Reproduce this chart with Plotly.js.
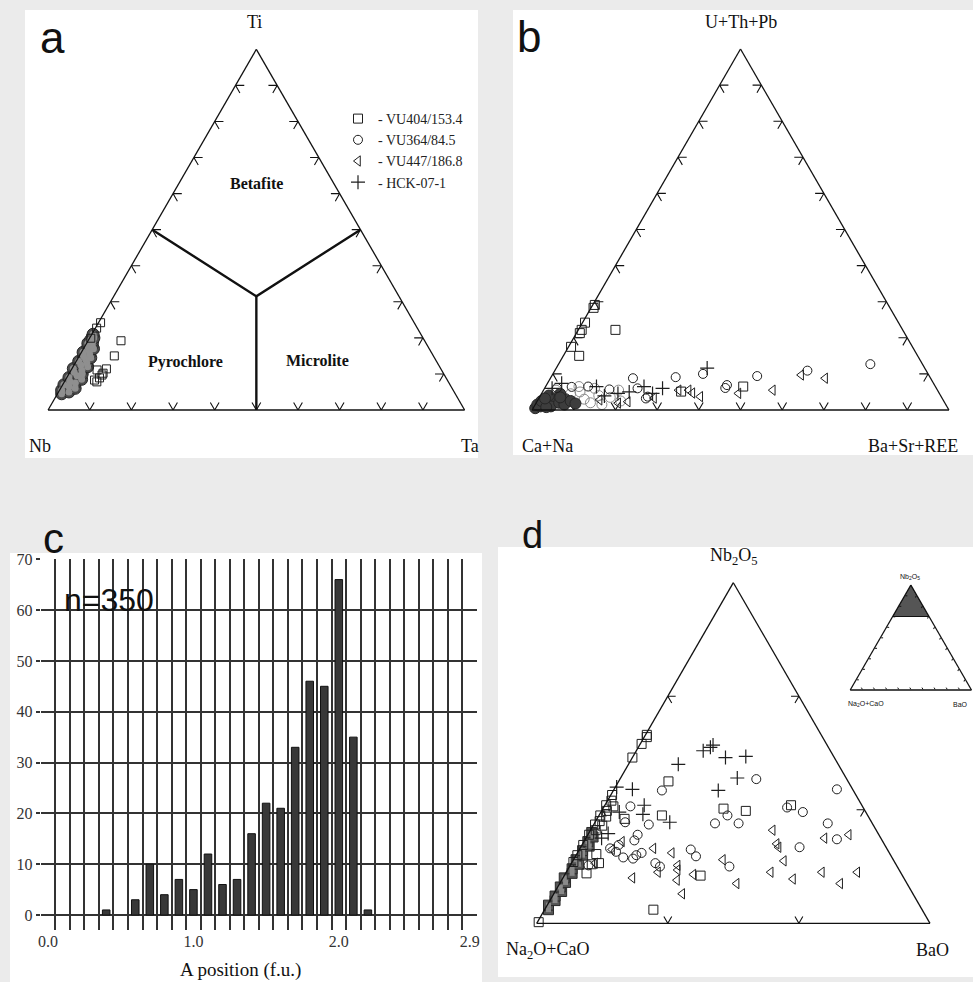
<!DOCTYPE html>
<html><head><meta charset="utf-8">
<script src="https://cdn.plot.ly/plotly-3.0.1.min.js"></script>
<style>html,body{margin:0;padding:0;background:#ebebeb}</style>
</head><body><div id="chart" style="width:973px;height:982px"></div>
<script>
// ---------- Panel a : Ti - Nb - Ta (percent of Ti and Ta, Nb = rest) ----------
const aSqTi   = [24.2,22.7,19.2,15.0,11.4,9.7,8.9,7.8,10.2,11.1,19.9,8.3];
const aSqTa   = [0.5,0.3,7.9,8.4,8.3,8.1,7.9,7.8,8.1,6.2,0.3,7.0];
const aBlobTi = [4.5,5,5.5,6,6.5,7,7.5,8,8.5,9,9.5,10,10.5,11,11.5,12,12.5,13,13.5,14,14.5,15,15.5,16,16.5,17,17.5,18,18.5,19,19.5,20,21];
const aBlobTa = [1.0,2.5,0.5,3.5,1.8,0.3,2.8,1.2,3.8,0.5,2.2,3.2,1.0,2.6,0.3,3.5,1.6,2.8,0.6,2.0,3.0,1.0,2.2,0.4,1.6,2.4,0.8,1.6,0.3,1.2,0.5,1.0,0.3];
const aFieldTi = [50,31.5,50,null,31.5,0];
const aFieldNb = [50,34.25,0,null,34.25,50];
const aFieldTa = [0,34.25,50,null,34.25,50];

// ---------- Panel b : U+Th+Pb - Ca+Na - Ba+Sr+REE ----------
const bSqU  = [29.1,24.2,22.2,21.3,17.5,15.0,22.2,6.5,5.1,28.3];
const bSqB  = [0.5,0.6,0.8,0.8,0.6,3.8,8.9,47.4,33.2,0.6];
const bCiU  = [8.8,9.1,10.0,6.9,6.1,9.4,10.9,12.7,5.7,6.0,3.7,6.5,6.4,6.1,3.2];
const bCiB  = [19.8,29.9,36.0,43.3,43.3,49.3,60.6,74.8,15.7,22.3,25.9,10.2,6.3,2.9,25.7];
const bTrU  = [8.8,9.7,5.5,4.6,3.7,5.5,4.7,5.5,3.3,2.3,1.9,2.8];
const bTrB  = [65.9,59.7,55.0,47.2,38.5,34.8,36.1,32.4,27.6,21.8,19.7,14.8];
const bCrU  = [11.6,6.0,4.6,6.5,4.6,6.5,7.4,6.0,5.0,3.9];
const bCrB  = [36.2,28.3,26.6,23.6,18.3,12.2,3.4,1.8,20.8,15.4];
const bDarkU = [0.5,1,1.5,2,2.5,3,1,2,3,1.5,2.5,4,4.5,3.5,0.8,1.8,3.2];
const bDarkB = [0.5,1.5,0.5,2.5,1,3.5,4,5.5,6.5,7,8,2,4.5,5,3,9.5,1.5];
const bGreyU = [3,5,2,4,6,1.5,3.5,5.5,2.5,4.5,6.5,5.5];
const bGreyB = [11,9,13,14,12,16,17,18,20,7,8,3];

// ---------- Panel c : histogram of A-site occupancy ----------
const cPos    = [0.4,0.6,0.7,0.8,0.9,1.0,1.1,1.2,1.3,1.4,1.5,1.6,1.7,1.8,1.9,2.0,2.1,2.2];
const cCount  = [1,3,10,4,7,5,12,6,7,16,22,21,33,46,45,66,35,1];
const cTickVals = [0,1,2,2.9];
const cTickText = ['0.0','1.0','2.0','2.9'];
const cYTicks = [0,10,20,30,40,50,60,70];

// ---------- Panel d : Nb2O5 - (Na2O+CaO) - BaO, wt% (Nb2O5 >= 70) ----------
const dSqNb = [86.6,85.8,86.4,84.6,81.3,80.4,79.5,78.7,77.8,76.9,76.0,75.4,70.1,82.5,79.5,79.2,80.1,79.9,80.4,76.1,74.4,75.3,75.2,74.2,71.2,78.2,78.6,79.0,79.4,79.9,80.3,80.8];
const dSqBa = [0.1,0.1,0.2,0.0,0.1,0.1,0.1,0.1,0.1,0.1,0.1,0.1,0.1,3.8,4.8,2.1,9.2,11.0,14.2,1.5,1.6,2.1,1.6,10.4,8.3,0.4,0.7,0.3,0.6,0.4,0.7,0.3];
const dCrNb = [85.7,85.5,85.2,84.6,84.7,84.0,82.8,81.7,81.8,82.0,80.4,79.6,78.9,79.8,77.9,77.5];
const dCrBa = [5.6,5.5,5.1,7.1,8.6,3.8,8.9,8.0,1.4,0.1,3.0,3.3,5.7,1.4,1.5,1.2];
const dCiNb = [82.7,81.7,80.3,78.7,79.5,78.8,78.8,80.2,79.8,81.8,78.8,77.4,76.7,75.0,76.5,75.9,75.0,75.3,76.2,76.0,75.7,75.8,76.3,76.6,77.8,77.3,78.9,76.9,75.1];
const dCiBa = [10.4,3.7,2.0,4.2,9.8,9.2,11.0,14.0,15.4,17.0,17.8,19.2,16.7,12.2,8.5,9.2,6.9,6.4,4.9,4.6,4.5,3.7,2.9,2.3,3.8,3.8,2.3,2.8,1.4];
const dTrNb = [78.2,77.0,76.7,77.5,77.8,75.5,74.5,73.9,74.5,74.5,73.5,75.6,73.5,74.3,72.6,73.8,74.7,75.1,76.2,76.6,74.0,74.5,77.2,76.5,75.3];
const dTrBa = [13.9,14.8,15.1,18.2,19.9,16.1,15.6,17.6,19.5,22.2,21.4,11.4,13.5,9.8,9.8,8.8,8.4,8.2,7.2,5.6,5.3,7.0,2.9,2.5,1.8];
const dBandNb = [71.2,71.6,72.0,72.4,72.8,73.2,73.6,74.0,74.4,74.8,75.2,75.6,76.0,76.4,76.8,77.2,77.6,78.0];
const dBandBa = [0.3,0.1,0.4,0.2,0.5,0.2,0.4,0.1,0.5,0.3,0.6,0.2,0.5,0.3,0.6,0.3,0.5,0.2];
// inset: magnified field Nb2O5 >= 70 %
const insetNb = [100,70,70,100];
const insetNa = [0,30,0,0];
const insetBa = [0,0,30,0];

const sampleNames = ['- VU404/153.4','- VU364/84.5','- VU447/186.8','- HCK-07-1'];
const tick10 = [10,20,30,40,50,60,70,80,90];
const dTickA = [80,90], dTickC = [10,20];

// ---------- geometry helpers (pixels -> paper) ----------
const W = 973, H = 982;
const fx = x => x / W, fy = y => 1 - y / H;
const serif = 'Liberation Serif, Times New Roman, serif', sans = 'Liberation Sans, Arial, sans-serif';
const ink = '#1e1e1e';

function mk(sym, size, color, lw, fill) {
  return {symbol: sym, size: size, color: fill || color, line: {color: color, width: lw}};
}
function tern(sub, a, c, name, marker, legend) {
  return {type:'scatterternary', subplot: sub, mode:'markers', a: a, c: c, sum: 100,
          name: name || '', showlegend: !!legend, marker: marker, cliponaxis: false, hoverinfo:'skip'};
}
const openSq = s => mk('square-open', s, ink, 1);
const openCi = s => mk('circle-open', s, ink, 1);
const openTr = s => mk('triangle-left-open', s, ink, 1);
const openCr = s => mk('cross-thin-open', s, ink, 1.2);

// chevron-shaped ternary ticks (two short arms along the grid directions at each tick value)
function chevrons(sub, leftA, bottomC, rightA, amin, d) {
  const A = [], B = [], C = [];
  const add = (p, q, r) => { A.push(p[0], q[0], r[0], null); B.push(p[1], q[1], r[1], null); C.push(p[2], q[2], r[2], null); };
  leftA.forEach(v => add([v, 100 - v - d, d], [v, 100 - v, 0], [v - d, 100 - v, d]));
  bottomC.forEach(w => add([amin + d, 100 - amin - w - d, w], [amin, 100 - amin - w, w], [amin + d, 100 - amin - w, w - d]));
  rightA.forEach(v => add([v, d, 100 - v - d], [v, 0, 100 - v], [v - d, d, 100 - v]));
  return {type:'scatterternary', subplot: sub, mode:'lines', a: A, b: B, c: C, connectgaps:false,
          line:{color:'#111', width:1.1}, showlegend:false, hoverinfo:'skip', cliponaxis:false};
}

const data = [
  // panel a
  chevrons('ternary', tick10, tick10, tick10, 0, 2.1),
  tern('ternary', aBlobTi, aBlobTa, '', mk('circle', 12, '#262626', 1, '#4b4b4b')),
  tern('ternary', aBlobTi, aBlobTa, '', mk('circle', 7, '#8f8f8f', 0, '#8f8f8f')),
  tern('ternary', aSqTi, aSqTa, '', openSq(8)),
  {type:'scatterternary', subplot:'ternary', mode:'lines', a:aFieldTi, b:aFieldNb, c:aFieldTa,
   line:{color:'#111', width:2.4}, showlegend:false, hoverinfo:'skip', connectgaps:false},
  // panel b
  chevrons('ternary2', tick10, tick10, tick10, 0, 2.1),
  tern('ternary2', bGreyU, bGreyB, '', mk('circle-open', 10, '#8a8a8a', 1)),
  tern('ternary2', bDarkU, bDarkB, '', mk('circle', 11, '#262626', 1, '#3d3d3d')),
  tern('ternary2', bSqU, bSqB, sampleNames[0], openSq(9), true),
  tern('ternary2', bCiU, bCiB, sampleNames[1], openCi(9), true),
  tern('ternary2', bTrU, bTrB, sampleNames[2], openTr(9), true),
  tern('ternary2', bCrU, bCrB, sampleNames[3], openCr(10), true),
  // panel c
  {type:'bar', x: cPos, y: cCount, width: 0.052, xaxis:'x', yaxis:'y',
   marker:{color:'#383838', line:{color:'#111', width:1}}, showlegend:false, hoverinfo:'skip'},
  // panel d
  chevrons('ternary3', dTickA, dTickC, dTickA, 70, 0.6),
  tern('ternary3', dBandNb, dBandBa, '', mk('square', 10, '#2a2a2a', 1, '#555555')),
  tern('ternary3', dBandNb, dBandBa, '', mk('square', 5, '#8a8a8a', 0, '#8a8a8a')),
  tern('ternary3', dSqNb, dSqBa, '', openSq(9)),
  tern('ternary3', dCiNb, dCiBa, '', openCi(9)),
  tern('ternary3', dTrNb, dTrBa, '', openTr(9)),
  tern('ternary3', dCrNb, dCrBa, '', openCr(10)),
  // inset
  {type:'scatterternary', subplot:'ternary4', mode:'lines', a:insetNb, b:insetNa, c:insetBa,
   fill:'toself', fillcolor:'#555555', line:{color:'#111', width:1}, showlegend:false, hoverinfo:'skip'},
  // carrier for the x tick labels of panel c
  {type:'scatter', x:[null], y:[null], xaxis:'x2', yaxis:'y', showlegend:false, hoverinfo:'skip'}
];

function tAxis(vals, len, lw) {
  return {showline:true, linecolor:'#111', linewidth: lw || 1.3, showgrid:false, showticklabels:false,
          ticks: len ? 'inside' : '', ticklen: len || 0, tickwidth:1, tickcolor:'#111', tickmode:'array', tickvals: vals,
          title:{text:''}};
}
function ternLayout(x0, x1, y0, y1, tv, len, amin) {
  const aax = tAxis(tv, len); if (amin) aax.min = amin;
  return {domain:{x:[fx(x0), fx(x1)], y:[fy(y1), fy(y0)]}, sum:100, bgcolor:'rgba(0,0,0,0)',
          aaxis: aax, baxis: tAxis(tv, len), caxis: tAxis(tv, len)};
}

const ann = (x, y, text, size, family, extra) => Object.assign({xref:'paper', yref:'paper', x: fx(x), y: fy(y),
  text: text, showarrow:false, xanchor:'center', yanchor:'middle', font:{family: family || serif, size: size, color:'#111'}}, extra || {});

const annotations = [
  ann(52, 38, 'a', 44, sans), ann(529, 36, 'b', 44, sans), ann(53, 538, 'c', 42, sans), ann(532, 535, 'd', 38, sans),
  ann(254, 22, 'Ti', 18), ann(40, 446, 'Nb', 18), ann(470, 446, 'Ta', 18),
  ann(741, 22, 'U+Th+Pb', 18), ann(547, 446, 'Ca+Na', 18), ann(913, 446, 'Ba+Sr+REE', 18),
  ann(256, 183, '<b>Betafite</b>', 16), ann(185, 362, '<b>Pyrochlore</b>', 16), ann(317, 360, '<b>Microlite</b>', 16),
  ann(109, 600, 'n=350', 32, sans),
  ann(240, 970, 'A position (f.u.)', 19),
  ann(734, 556, 'Nb<sub>2</sub>O<sub>5</sub>', 18), ann(547, 950, 'Na<sub>2</sub>O+CaO', 18), ann(932, 950, 'BaO', 18),
  ann(910, 577, 'Nb<sub>2</sub>O<sub>5</sub>', 7, sans), ann(866, 704, 'Na<sub>2</sub>O+CaO', 7, sans), ann(960, 704, 'BaO', 7, sans)
];

const whiteRect = (x0, y0, x1, y1) => ({type:'rect', xref:'paper', yref:'paper', x0: fx(x0), x1: fx(x1), y0: fy(y1), y1: fy(y0),
  fillcolor:'#ffffff', line:{width:0}, layer:'below'});

const layout = {
  width: W, height: H, margin:{l:0, r:0, t:0, b:0}, paper_bgcolor:'#ebebeb', plot_bgcolor:'#ffffff',
  showlegend: true,
  legend:{x: fx(338), y: fy(103), xanchor:'left', yanchor:'top', bgcolor:'rgba(0,0,0,0)',
          font:{family: serif, size: 14, color:'#222'}, itemwidth: 30, tracegroupgap: 0},
  shapes: [whiteRect(25, 10, 478, 458), whiteRect(513, 10, 973, 455), whiteRect(10, 553, 482, 982), whiteRect(498, 547, 973, 977)],
  annotations: annotations,
  ternary:  ternLayout(47.7, 465, 49.3, 410, tick10, 0),
  ternary2: ternLayout(530, 951, 49, 410, tick10, 0),
  ternary3: ternLayout(536.7, 930, 582.7, 923.3, tick10, 0, 70),
  ternary4: ternLayout(850, 971.7, 585, 690, tick10, 2),
  xaxis: {domain:[fx(40.7), fx(477)], range:[-0.0505, 2.9505], anchor:'y', tickmode:'linear', tick0:-0.05, dtick:0.1,
          showticklabels:false, ticks:'', showgrid:true, gridcolor:'#333333', gridwidth:2, zeroline:false, showline:false},
  xaxis2: {domain:[fx(40.7), fx(477)], range:[-0.0505, 2.9505], anchor:'y', overlaying:'x', side:'bottom',
           tickmode:'array', tickvals: cTickVals, ticktext: cTickText, ticks:'', showgrid:false, zeroline:false, showline:false,
           tickfont:{family: serif, size: 16, color:'#333'}},
  yaxis: {domain:[fy(930), fy(559)], range:[-2.95, 70.05], anchor:'x', tickmode:'array', tickvals: cYTicks,
          ticks:'outside', ticklen:4, tickcolor:'#333333', tickwidth:2, showgrid:true, gridcolor:'#333333', gridwidth:2,
          zeroline:false, showline:false, tickfont:{family: serif, size: 16, color:'#333'}}
};

Plotly.newPlot('chart', data, layout, {staticPlot:true, displayModeBar:false});
</script></body></html>
